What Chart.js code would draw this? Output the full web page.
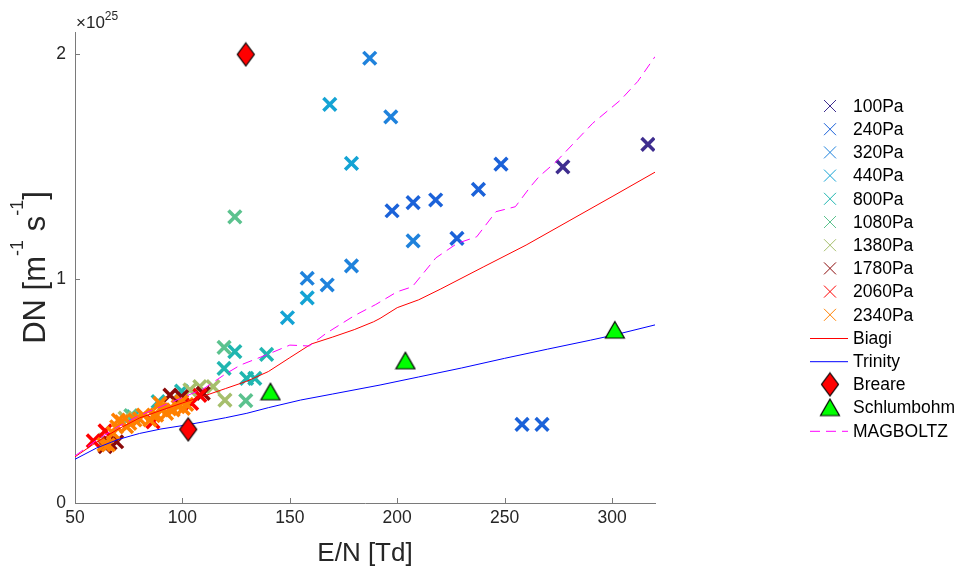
<!DOCTYPE html>
<html>
<head>
<meta charset="utf-8">
<script src="https://cdn.jsdelivr.net/npm/chart.js@4"></script>
<style>
html, body { margin: 0; padding: 0; background: #fff; }
#wrap { width: 960px; height: 570px; }
</style>
</head>
<body>
<div id="wrap"><canvas id="myChart" width="960" height="570"></canvas></div>
<script>
// DN values are in units of 1e25 m^-1 s^-1
var pressures = ["100Pa", "240Pa", "320Pa", "440Pa", "800Pa", "1080Pa", "1380Pa", "1780Pa", "2060Pa", "2340Pa"];
var colors = ["#3e2d8f", "#1b62d9", "#1f82dc", "#14a3d4", "#20b6b0", "#5bc28e", "#a6bf6c", "#8b0a0a", "#ff0000", "#ff8000"];

var x100 = [277.1, 316.7];
var y100 = [1.499, 1.599];
var x240 = [197.6, 207.4, 217.9, 237.8, 248.3, 227.8, 258.1, 267.4];
var y240 = [1.303, 1.339, 1.351, 1.398, 1.511, 1.180, 0.351, 0.351];
var x320 = [187.2, 197.0, 207.4, 158.1, 167.4, 178.7];
var y320 = [1.983, 1.722, 1.169, 1.002, 0.972, 1.057];
var x440 = [168.6, 178.7, 158.1, 148.9];
var y440 = [1.777, 1.514, 0.915, 0.826];
var x800 = [124.4, 119.4, 139.2, 129.9, 133.7, 88.7, 99.6, 77.1];
var y800 = [0.675, 0.600, 0.663, 0.556, 0.556, 0.452, 0.499, 0.385];
var x1080 = [124.4, 119.4, 129.5, 76.0];
var y1080 = [1.276, 0.694, 0.456, 0.390];
var x1380 = [64.0, 73.3, 103.5, 108.1, 114.3, 119.8];
var y1380 = [0.281, 0.378, 0.504, 0.519, 0.519, 0.459];
var x1780 = [64.0, 66.3, 69.4, 94.2, 99.6, 109.7];
var y1780 = [0.251, 0.267, 0.273, 0.481, 0.474, 0.489];
var x2060 = [58.5, 64.0, 86.3, 104.3, 108.1];
var y2060 = [0.277, 0.322, 0.362, 0.444, 0.480];
var x2340 = [63.5, 65.5, 67.8, 69.4, 70.2, 71.7, 74.0, 75.5, 77.9, 80.0, 81.8, 84.9, 86.5, 88.0, 89.5, 90.3, 92.6, 94.0, 95.7, 98.0, 99.6, 100.4, 102.0];
var y2340 = [0.260, 0.259, 0.311, 0.340, 0.370, 0.362, 0.340, 0.355, 0.370, 0.375, 0.392, 0.370, 0.390, 0.392, 0.444, 0.415, 0.400, 0.420, 0.415, 0.430, 0.452, 0.422, 0.440];

var biagiX = [50, 60, 70, 80, 90, 100, 110, 120, 130, 140, 150, 160, 170, 180, 189, 192, 200, 210, 220, 240, 260, 280, 300, 320];
var biagiY = [0.206, 0.271, 0.329, 0.379, 0.413, 0.446, 0.477, 0.510, 0.543, 0.586, 0.648, 0.709, 0.740, 0.773, 0.808, 0.823, 0.871, 0.906, 0.953, 1.052, 1.150, 1.258, 1.366, 1.475];
var trinityX = [50, 60, 70, 80, 90, 100, 110, 120, 130, 140, 155, 170, 192, 210, 230, 250, 270, 290, 301, 320];
var trinityY = [0.195, 0.245, 0.283, 0.310, 0.330, 0.345, 0.362, 0.380, 0.400, 0.425, 0.459, 0.486, 0.526, 0.562, 0.602, 0.645, 0.686, 0.726, 0.749, 0.794];
var breareX = [102.7, 129.5];
var breareY = [0.328, 2.000];
var schlumX = [141.0, 203.8, 301.3];
var schlumY = [0.496, 0.634, 0.771];
var magX = [50, 60, 70, 80, 90, 100, 110, 114, 120, 127, 139, 150, 159, 167, 180, 190, 200, 207, 218, 228, 237, 246, 255, 262, 266, 274, 291, 304, 312, 320];
var magY = [0.21, 0.28, 0.34, 0.39, 0.43, 0.47, 0.51, 0.536, 0.575, 0.615, 0.66, 0.704, 0.70, 0.757, 0.835, 0.885, 0.942, 0.964, 1.093, 1.158, 1.187, 1.299, 1.321, 1.41, 1.455, 1.522, 1.693, 1.797, 1.88, 1.99];

var xTicks = [50, 100, 150, 200, 250, 300];
var yTicks = [0, 1, 2];

var groupX = [x100, x240, x320, x440, x800, x1080, x1380, x1780, x2060, x2340];
var groupY = [y100, y240, y320, y440, y800, y1080, y1380, y1780, y2060, y2340];

function pts(xs, ys) {
    return xs.map(function (v, i) { return { x: v, y: ys[i] }; });
}

// marker images (MATLAB style diamond / triangle)
function diamondImg() {
    var c = document.createElement('canvas');
    c.width = 20; c.height = 26;
    var g = c.getContext('2d');
    g.beginPath();
    g.moveTo(10, 1.5); g.lineTo(18.5, 13); g.lineTo(10, 24.5); g.lineTo(1.5, 13); g.closePath();
    g.fillStyle = '#ff0000'; g.fill();
    g.strokeStyle = '#000'; g.lineWidth = 1.2; g.stroke();
    return c;
}
function triangleImg() {
    var c = document.createElement('canvas');
    c.width = 22; c.height = 20;
    var g = c.getContext('2d');
    g.beginPath();
    g.moveTo(11, 1.5); g.lineTo(20.5, 18); g.lineTo(1.5, 18); g.closePath();
    g.fillStyle = '#00ff00'; g.fill();
    g.strokeStyle = '#000'; g.lineWidth = 1.2; g.stroke();
    return c;
}
var diamond = diamondImg();
var triangle = triangleImg();

var datasets = [];
pressures.forEach(function (p, i) {
    datasets.push({
        label: p,
        data: pts(groupX[i], groupY[i]),
        showLine: false,
        pointStyle: 'crossRot',
        pointRadius: 9,
        pointHoverRadius: 9,
        borderWidth: 3.5,
        pointBorderWidth: 3.5,
        borderColor: colors[i],
        backgroundColor: colors[i]
    });
});
datasets.push({ label: 'Biagi', data: pts(biagiX, biagiY), showLine: true, borderColor: '#ff0000', borderWidth: 1, pointRadius: 0, tension: 0 });
datasets.push({ label: 'Trinity', data: pts(trinityX, trinityY), showLine: true, borderColor: '#0000ff', borderWidth: 1, pointRadius: 0, tension: 0 });
datasets.push({ label: 'Breare', data: pts(breareX, breareY), showLine: false, pointStyle: diamond, pointRadius: 10 });
datasets.push({ label: 'Schlumbohm', data: pts(schlumX, schlumY), showLine: false, pointStyle: triangle, pointRadius: 10 });
datasets.push({ label: 'MAGBOLTZ', data: pts(magX, magY), showLine: true, borderColor: '#ff00ff', borderWidth: 1, borderDash: [10, 6], pointRadius: 0, tension: 0 });
// later series drawn on top, like MATLAB
datasets.forEach(function (d, i) { d.order = datasets.length - i; });

var FONT = "'Liberation Sans', Arial, sans-serif";

var decorPlugin = {
    id: 'decor',
    afterDraw: function (chart) {
        var ctx = chart.ctx;
        var xs = chart.scales.x, ys = chart.scales.y;
        var a = chart.chartArea;
        ctx.save();
        // inward ticks
        ctx.strokeStyle = '#7a7a7a';
        ctx.lineWidth = 1;
        ctx.beginPath();
        xTicks.forEach(function (v) {
            var px = Math.round(xs.getPixelForValue(v)) + 0.5;
            ctx.moveTo(px, a.bottom); ctx.lineTo(px, a.bottom - 5);
        });
        yTicks.forEach(function (v) {
            var py = Math.round(ys.getPixelForValue(v)) + 0.5;
            ctx.moveTo(a.left, py); ctx.lineTo(a.left + 5, py);
        });
        ctx.stroke();

        // exponent label
        ctx.fillStyle = '#262626';
        ctx.textBaseline = 'alphabetic';
        ctx.textAlign = 'left';
        ctx.font = '17px ' + FONT;
        ctx.fillText('\u00d710', a.left + 1, 28);
        var w = ctx.measureText('\u00d710').width;
        ctx.font = '12px ' + FONT;
        ctx.fillText('25', a.left + 1 + w, 20);

        // x axis title
        ctx.font = '26px ' + FONT;
        ctx.textAlign = 'center';
        ctx.fillText('E/N [Td]', (a.left + a.right) / 2, 561);

        // y axis title with superscripts
        var parts = [['DN [m', 0], ['-1', 1], [' s', 0], ['-1', 1], [']', 0]];
        var big = '31px ' + FONT, small = '18px ' + FONT;
        var total = 0;
        parts.forEach(function (p) { ctx.font = p[1] ? small : big; total += ctx.measureText(p[0]).width; });
        ctx.translate(45, (a.top + a.bottom) / 2);
        ctx.rotate(-Math.PI / 2);
        ctx.textAlign = 'left';
        var cx = -total / 2;
        parts.forEach(function (p) {
            ctx.font = p[1] ? small : big;
            ctx.fillText(p[0], cx, p[1] ? -22 : 0);
            cx += ctx.measureText(p[0]).width;
        });
        ctx.restore();

        // legend
        ctx.save();
        var lx = 830, ty = 106, dy = 23.2;
        chart.data.datasets.forEach(function (d, i) {
            var y = ty + i * dy;
            ctx.strokeStyle = d.borderColor;
            ctx.lineWidth = 1;
            if (i < pressures.length) {
                var r = 6;
                ctx.beginPath();
                ctx.moveTo(lx - r, y - r); ctx.lineTo(lx + r, y + r);
                ctx.moveTo(lx - r, y + r); ctx.lineTo(lx + r, y - r);
                ctx.stroke();
            } else if (d.showLine) {
                ctx.setLineDash(d.borderDash || []);
                ctx.beginPath();
                ctx.moveTo(810, y + 0.5); ctx.lineTo(848, y + 0.5);
                ctx.stroke();
                ctx.setLineDash([]);
            } else {
                var img = d.pointStyle;
                ctx.drawImage(img, lx - img.width / 2, y - img.height / 2);
            }
            ctx.fillStyle = '#000';
            ctx.font = '17.5px ' + FONT;
            ctx.textAlign = 'left';
            ctx.textBaseline = 'middle';
            ctx.fillText(d.label, 853, y + 1);
        });
        ctx.restore();
    }
};

var myChart = new Chart(document.getElementById('myChart'), {
    type: 'scatter',
    data: { datasets: datasets },
    options: {
        responsive: false,
        animation: false,
        events: [],
        layout: { padding: { left: 0, top: 32, right: 305, bottom: 0 } },
        plugins: {
            legend: { display: false },
            tooltip: { enabled: false }
        },
        scales: {
            x: {
                type: 'linear',
                min: 50,
                max: 320,
                afterBuildTicks: function (s) { s.ticks = xTicks.map(function (v) { return { value: v }; }); },
                afterFit: function (s) { s.height = 67; },
                ticks: { font: { size: 17.5, family: FONT }, color: '#262626', padding: 5 },
                grid: { display: true, drawOnChartArea: false, drawTicks: false },
                border: { color: '#7a7a7a', width: 1 }
            },
            y: {
                type: 'linear',
                min: 0,
                max: 2.1,
                afterBuildTicks: function (s) { s.ticks = yTicks.map(function (v) { return { value: v }; }); },
                afterFit: function (s) { s.width = 75; },
                ticks: { font: { size: 17.5, family: FONT }, color: '#262626', padding: 9 },
                grid: { display: true, drawOnChartArea: false, drawTicks: false },
                border: { color: '#7a7a7a', width: 1 }
            }
        }
    },
    plugins: [decorPlugin]
});
</script>
</body>
</html>
